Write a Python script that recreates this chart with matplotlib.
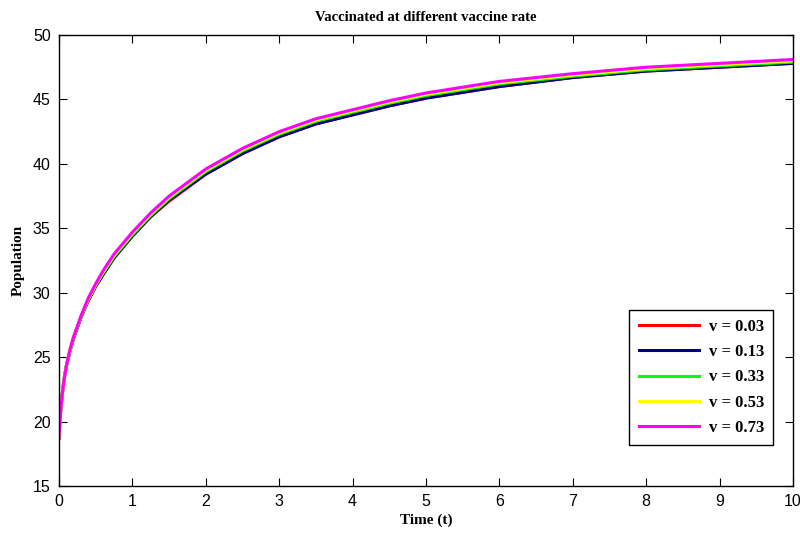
import numpy as np
import matplotlib
matplotlib.use('Agg')
import matplotlib.pyplot as plt

# data
t = [0, 0.01, 0.02, 0.03, 0.05, 0.07, 0.1, 0.15, 0.2, 0.3, 0.4, 0.5, 0.6, 0.75, 1,
     1.25, 1.5, 2, 2.5, 3, 3.5, 4, 4.5, 5, 6, 7, 8, 9, 10]

v003 = [18.7, 19.8, 20.6, 21.3, 22.4, 23.3, 24.3, 25.5, 26.5, 28.1, 29.4, 30.5, 31.4, 32.7, 34.4,
        35.9, 37.1, 39.2, 40.8, 42.1, 43.1, 43.8, 44.5, 45.1, 46.0, 46.7, 47.2, 47.5, 47.8]
v013 = [18.7, 19.8, 20.6, 21.3, 22.4, 23.3, 24.3, 25.5, 26.5, 28.1, 29.4, 30.5, 31.4, 32.7, 34.4,
        35.9, 37.2, 39.2, 40.8, 42.1, 43.1, 43.8, 44.5, 45.1, 46.0, 46.7, 47.2, 47.5, 47.8]
v033 = [18.7, 19.8, 20.6, 21.3, 22.4, 23.3, 24.3, 25.5, 26.6, 28.1, 29.5, 30.6, 31.5, 32.8, 34.5,
        36.0, 37.3, 39.4, 41.0, 42.3, 43.3, 44.0, 44.7, 45.3, 46.2, 46.8, 47.3, 47.6, 47.9]
v053 = [18.7, 19.8, 20.6, 21.3, 22.4, 23.3, 24.3, 25.6, 26.6, 28.2, 29.5, 30.6, 31.6, 32.9, 34.6,
        36.1, 37.4, 39.5, 41.1, 42.4, 43.4, 44.1, 44.8, 45.4, 46.3, 46.9, 47.4, 47.7, 48.0]
v073 = [18.7, 19.8, 20.6, 21.3, 22.4, 23.3, 24.3, 25.6, 26.6, 28.2, 29.6, 30.7, 31.7, 33.0, 34.7,
        36.2, 37.5, 39.6, 41.2, 42.5, 43.5, 44.2, 44.9, 45.5, 46.4, 47.0, 47.5, 47.8, 48.1]

labels = ['v = 0.03', 'v = 0.13', 'v = 0.33', 'v = 0.53', 'v = 0.73']
colors = ['#ff0000', '#000080', '#00ff00', '#ffff00', '#ff00ff']
series = [v003, v013, v033, v053, v073]

serif = 'Liberation Serif'
plt.rcParams['font.family'] = 'Liberation Sans'

fig = plt.figure(figsize=(8, 5.36), dpi=100)
ax = fig.add_axes([0.07375, 0.0933, 0.9175, 0.8414])

for y, c, lab in zip(series, colors, labels):
    ax.plot(t, y, color=c, linewidth=2.2, label=lab)

ax.set_xlim(0, 10)
ax.set_ylim(15, 50)
ax.set_xticks(range(0, 11))
ax.set_yticks(range(15, 51, 5))
ax.tick_params(direction='in', top=True, right=True, length=6, labelsize=11.5, pad=6)
for s in ax.spines.values():
    s.set_linewidth(1.0)

ax.set_title('Vaccinated at different vaccine rate', fontfamily=serif,
             fontweight='bold', fontsize=10.5, pad=10)
ax.set_xlabel('Time (t)', fontfamily=serif, fontweight='bold', fontsize=11, labelpad=3)
ax.set_ylabel('Population', fontfamily=serif, fontweight='bold', fontsize=11, labelpad=6)

leg = ax.legend(loc='lower right', bbox_to_anchor=(0.973, 0.091), borderaxespad=0,
                prop={'family': serif, 'weight': 'bold', 'size': 12},
                fancybox=False, edgecolor='black', framealpha=1,
                handlelength=3.6, handletextpad=0.6, labelspacing=0.55, borderpad=0.55)
leg.get_frame().set_linewidth(1.0)

fig.savefig('out.png', dpi=100)
